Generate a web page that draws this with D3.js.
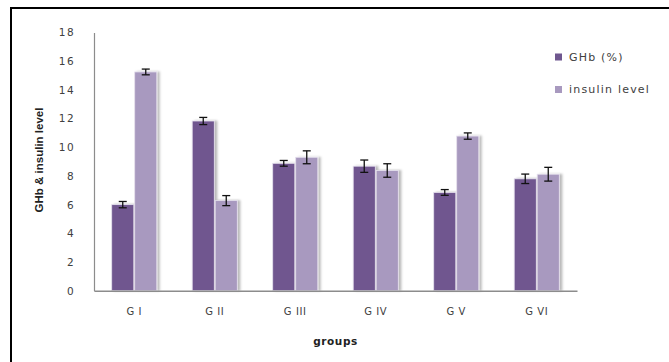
<!DOCTYPE html>
<html>
<head>
<meta charset="utf-8">
<script src="https://cdn.jsdelivr.net/npm/d3@7"></script>
<style>
  html, body { margin: 0; padding: 0; background: #fff; }
  svg { display: block; }
</style>
</head>
<body>
<div id="chart"></div>
<script>
// Group labels and series values (means with error margins)
const groups = ["G I", "G II", "G III", "G IV", "G V", "G VI"];
const seriesNames = ["GHb (%)", "insulin level"];
const ghb = [6.0, 11.83, 8.88, 8.68, 6.85, 7.8];
const ghbErr = [0.22, 0.25, 0.2, 0.43, 0.2, 0.33];
const insulin = [15.25, 6.28, 9.3, 8.38, 10.78, 8.12];
const insulinErr = [0.2, 0.35, 0.45, 0.47, 0.22, 0.48];
const yTicks = [0, 2, 4, 6, 8, 10, 12, 14, 16, 18];
const colors = ["#6f578f", "#a899bf"];

const W = 669, H = 362;
const svg = d3.select("#chart").append("svg").attr("width", W).attr("height", H);

// soft shadow to the right of each bar
const defs = svg.append("defs");
const f = defs.append("filter").attr("id", "shadow")
  .attr("x", "-20%").attr("y", "-5%").attr("width", "160%").attr("height", "110%");
f.append("feDropShadow").attr("dx", 2.5).attr("dy", 0).attr("stdDeviation", 1)
  .attr("flood-color", "#000").attr("flood-opacity", 0.28);

// outer frame (right and bottom edges run past the canvas)
svg.append("rect").attr("x", 11).attr("y", 8).attr("width", W + 20).attr("height", H + 20)
  .attr("fill", "none").attr("stroke", "#000").attr("stroke-width", 2);

const plot = { left: 94, right: 577, top: 32.5, bottom: 290.7 };

const x0 = d3.scaleBand().domain(groups)
  .range([plot.left, plot.right]).paddingInner(0.44).paddingOuter(0.22);
const x1 = d3.scaleBand().domain([0, 1]).range([0, x0.bandwidth()]).paddingInner(0.04);
const y = d3.scaleLinear().domain([0, 18]).range([plot.bottom, plot.top]);

const rows = groups.map((g, i) => ({
  g, vals: [
    { s: 0, v: ghb[i], e: ghbErr[i] },
    { s: 1, v: insulin[i], e: insulinErr[i] }
  ]
}));

const textColor = "#404040";

// y axis
const yAxis = svg.append("g").attr("transform", `translate(${plot.left},0)`)
  .call(d3.axisLeft(y).tickValues(yTicks).tickSize(0).tickPadding(19));
yAxis.select(".domain").attr("stroke", "#8c8c8c").attr("stroke-width", 1.2);
yAxis.selectAll("text").attr("font-family", "DejaVu Sans").attr("font-size", 10.5)
  .attr("letter-spacing", 1.4).attr("fill", textColor);

// bars
const gGroups = svg.append("g").selectAll("g").data(rows).join("g")
  .attr("transform", d => `translate(${x0(d.g)},0)`);

gGroups.selectAll("rect").data(d => d.vals).join("rect")
  .attr("x", d => x1(d.s))
  .attr("y", d => y(d.v))
  .attr("width", x1.bandwidth())
  .attr("height", d => y(0) - y(d.v))
  .attr("fill", d => colors[d.s])
  .attr("stroke", "#e6e1ee").attr("stroke-width", 0.8)
  .attr("filter", "url(#shadow)");

// error bars
const eb = gGroups.selectAll("g.err").data(d => d.vals).join("g").attr("class", "err")
  .attr("stroke", "#111").attr("stroke-width", 1.3);
eb.append("line")
  .attr("x1", d => x1(d.s) + x1.bandwidth() / 2).attr("x2", d => x1(d.s) + x1.bandwidth() / 2)
  .attr("y1", d => y(d.v + d.e)).attr("y2", d => y(d.v - d.e));
eb.append("line")
  .attr("x1", d => x1(d.s) + x1.bandwidth() / 2 - 4).attr("x2", d => x1(d.s) + x1.bandwidth() / 2 + 4)
  .attr("y1", d => y(d.v + d.e)).attr("y2", d => y(d.v + d.e));
eb.append("line")
  .attr("x1", d => x1(d.s) + x1.bandwidth() / 2 - 4).attr("x2", d => x1(d.s) + x1.bandwidth() / 2 + 4)
  .attr("y1", d => y(d.v - d.e)).attr("y2", d => y(d.v - d.e));

// x axis
const xAxis = svg.append("g").attr("transform", `translate(0,${plot.bottom})`)
  .call(d3.axisBottom(x0).tickSize(0).tickPadding(17));
xAxis.select(".domain").attr("stroke", "#8c8c8c").attr("stroke-width", 1.6);
xAxis.selectAll("text").attr("font-family", "DejaVu Sans").attr("font-size", 10)
  .attr("letter-spacing", 0.6).attr("fill", textColor);

// axis titles
svg.append("text").attr("x", (plot.left + plot.right) / 2).attr("y", 345)
  .attr("text-anchor", "middle").attr("font-family", "DejaVu Sans").attr("font-weight", "bold")
  .attr("font-size", 10.5).attr("letter-spacing", 0.6).attr("fill", "#222").text("groups");

svg.append("text").attr("transform", "translate(43,160) rotate(-90)")
  .attr("text-anchor", "middle").attr("font-family", "Liberation Sans Narrow, Liberation Sans")
  .attr("font-weight", "bold").attr("font-size", 11.5).attr("fill", "#222")
  .text("GHb & insulin level");

// legend
const legend = svg.append("g").attr("transform", "translate(555,57)");
const li = legend.selectAll("g").data(seriesNames).join("g")
  .attr("transform", (d, i) => `translate(0,${i * 32.5})`);
li.append("rect").attr("x", 0).attr("y", -3.5).attr("width", 7).attr("height", 7)
  .attr("fill", (d, i) => colors[i]);
li.append("text").attr("x", 14).attr("y", 0).attr("dy", "0.35em")
  .attr("font-family", "DejaVu Sans").attr("font-size", 11).attr("letter-spacing", 1.2)
  .attr("fill", textColor).text(d => d);
</script>
</body>
</html>
